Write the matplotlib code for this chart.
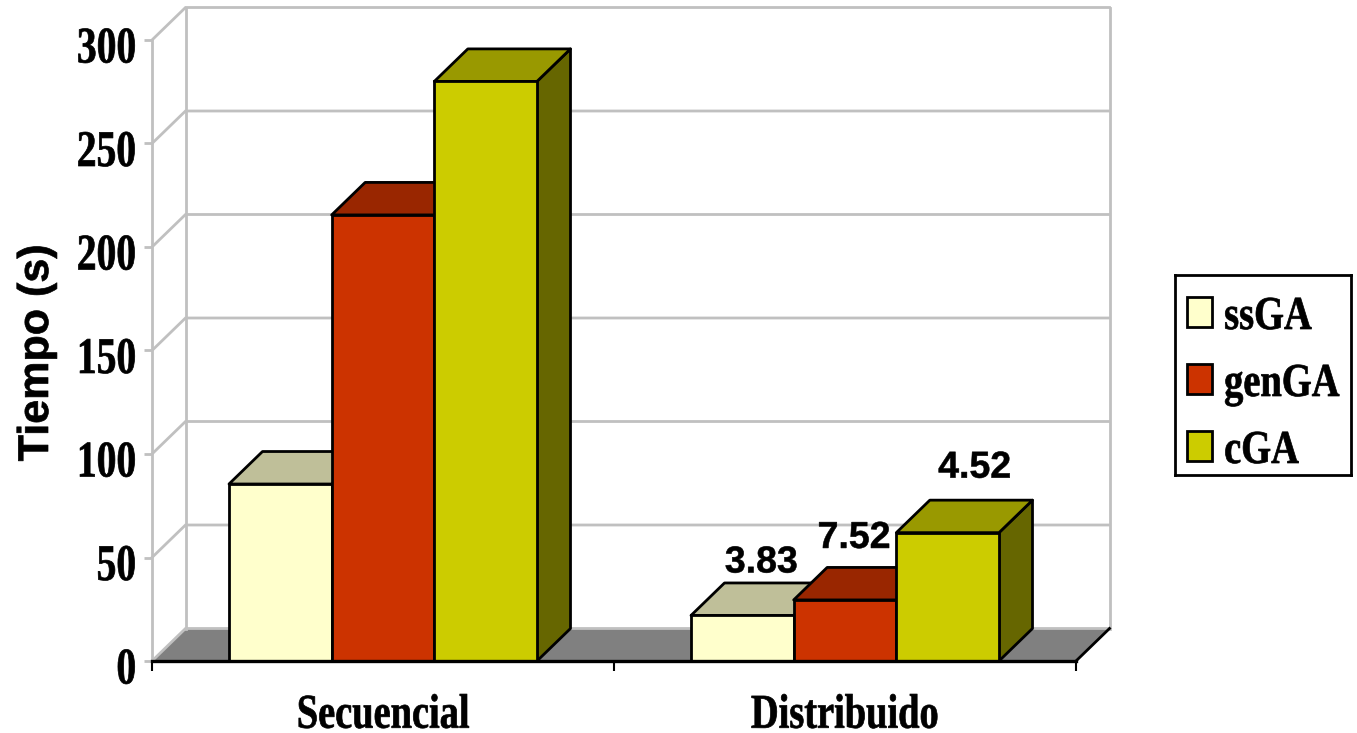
import matplotlib
matplotlib.use("Agg")
import matplotlib.pyplot as plt
from matplotlib.patches import Rectangle
from matplotlib.patheffects import AbstractPathEffect
from matplotlib.transforms import Affine2D

# Tiempos de ejecucion (s)
categories = ['Secuencial', 'Distribuido']
series = ['ssGA', 'genGA', 'cGA']
secuencial = [85.5, 215.5, 280]
distribuido = [22, 29.5, 62]
yticks = [0, 50, 100, 150, 200, 250, 300]

# Etiquetas escritas sobre las barras distribuidas; no son alturas del eje
dist_labels = ['3.83', '7.52', '4.52']
label_offsets = [(19, 53), (9, 62), (27, 65)]

front = ['#FFFFCC', '#CC3300', '#CCCC00']
top = ['#BFBF99', '#992600', '#999900']
side = ['#808066', '#661A00', '#666600']
grid = '#C0C0C0'

W, H = 1357, 733
BAR_W = 2 / 9
GAP = 1 / 6
DX = 33.5 / 462  # profundidad en unidades de x
DY = 32.5 / 2.07  # profundidad en unidades de y
EDGE = 2.0


class Condense(AbstractPathEffect):
    # estrecha el texto en horizontal alrededor de un punto de anclaje y lo engrosa un poco
    def __init__(self, sx=0.8, anchor=0.5, dy=0, stroke=0.5):
        super().__init__()
        self.sx = sx
        self.anchor = anchor
        self.dy = dy
        self.stroke = stroke

    def draw_path(self, renderer, gc, tpath, affine, rgbFace=None):
        box = tpath.get_extents()
        a = box.x0 + self.anchor * box.width
        t = Affine2D().translate(-a, 0).scale(self.sx, 1).translate(a, 0) + affine
        t = t + Affine2D().translate(0, self.dy)
        gc0 = renderer.new_gc()
        gc0.copy_properties(gc)
        gc0.set_linewidth(self.stroke)
        gc0.set_foreground(rgbFace)
        renderer.draw_path(gc0, tpath, t, rgbFace)
        gc0.restore()


serif = {'family': 'Liberation Serif', 'weight': 'bold', 'color': 'black'}
sans = {'family': 'Liberation Sans', 'weight': 'bold', 'color': 'black'}

fig = plt.figure(figsize=(W / 100, H / 100), dpi=100)
ax = fig.add_axes([152 / W, (H - 661) / H, 924 / W, 621 / H])
ax.set_xlim(0, 2)
ax.set_ylim(0, 300)
ax.patch.set_visible(False)

# suelo
ax.fill([0, DX, 2 + DX, 2], [0, DY, DY, 0], color='#808080', lw=0, clip_on=False, zorder=1)

# paredes y rejilla
for v in yticks:
    ax.plot([0, DX, 2 + DX], [v, v + DY, v + DY], color=grid, lw=2, clip_on=False, zorder=1.5,
            solid_joinstyle='miter')
for x in [DX, 2 + DX]:
    ax.plot([x, x], [DY, 300 + DY], color=grid, lw=2, clip_on=False, zorder=1.5)
ax.plot([2, 2 + DX], [0, DY], color='black', lw=EDGE, clip_on=False, zorder=1.6)

# barras de izquierda a derecha, para que cada una tape a la anterior
for c, values in enumerate([secuencial, distribuido]):
    for i, v in enumerate(values):
        x0 = c + GAP + i * BAR_W
        x1 = x0 + BAR_W
        z = 2 + c + i * 0.1
        ax.fill([x1, x1 + DX, x1 + DX, x1], [0, DY, v + DY, v], facecolor=side[i],
                edgecolor='black', lw=EDGE, clip_on=False, zorder=z, joinstyle='round')
        ax.fill([x0, x0 + DX, x1 + DX, x1], [v, v + DY, v + DY, v], facecolor=top[i],
                edgecolor='black', lw=EDGE, clip_on=False, zorder=z, joinstyle='round')
        ax.bar(x0, v, BAR_W, align='edge', color=front[i], edgecolor='black', lw=EDGE,
               clip_on=False, zorder=z + 0.01)

# etiquetas de las barras distribuidas
for i, v in enumerate(distribuido):
    xc = 1 + GAP + (i + 0.5) * BAR_W
    t = ax.annotate(dist_labels[i], (xc, v), xytext=label_offsets[i], textcoords='offset pixels',
                    ha='center', va='center', fontsize=27, zorder=10, annotation_clip=False, **sans)
    t.set_path_effects([Condense(1.0, 0.5, stroke=0.4)])

# ejes
for s in ['top', 'right']:
    ax.spines[s].set_visible(False)
ax.spines['left'].set_color(grid)
ax.spines['left'].set_linewidth(2)
ax.spines['left'].set_zorder(1.5)
ax.spines['bottom'].set_color('black')
ax.spines['bottom'].set_linewidth(2.4)
ax.spines['bottom'].set_zorder(8)

ax.set_yticks(yticks)
ax.set_yticklabels([str(v) for v in yticks], fontsize=37, **serif)
ax.tick_params(axis='y', length=6, width=2, color=grid, pad=5)
for lab in ax.get_yticklabels():
    lab.set_path_effects([Condense(0.77, 1.0, dy=-5)])

ax.set_xticks([0, 1, 2])
ax.set_xticklabels([])
ax.set_xticks([0.5, 1.5], minor=True)
ax.set_xticklabels(categories, minor=True, fontsize=35, **serif)
ax.tick_params(axis='x', which='major', length=7, width=1.5, color='black')
ax.tick_params(axis='x', which='minor', length=0, pad=20)
for lab in ax.get_xticklabels(minor=True):
    lab.set_path_effects([Condense(0.79, 0.5, dy=-5)])

ylab = ax.set_ylabel('Tiempo (s)', fontsize=31, va='center', **sans)
ylab.set_path_effects([Condense(1.0, 0.5, stroke=0.5)])
ax.yaxis.set_label_coords((37 - 152) / 924, (661 - 353) / 621)

# leyenda
lax = fig.add_axes([1175 / W, (H - 475) / H, 176 / W, 200 / H])
lax.set_xlim(1175, 1351)
lax.set_ylim(475, 275)
lax.set_xticks([])
lax.set_yticks([])
for s in lax.spines.values():
    s.set_linewidth(2)
renderer = fig.canvas.get_renderer()
for name, color, y in zip(series, front, [297, 364, 431]):
    lax.add_patch(Rectangle((1187, y), 25, 30, facecolor=color, edgecolor='black', lw=2))
    t = lax.text(1224, y + 32, name, fontsize=34, ha='center', va='baseline', **serif)
    t.set_path_effects([Condense(0.815, 0.5)])
    # centrado segun el ancho ya estrechado, con el borde izquierdo en x=1224
    t.set_x(1224 + 0.815 * t.get_window_extent(renderer).width / 2)

fig.savefig('out.png', dpi=100)
